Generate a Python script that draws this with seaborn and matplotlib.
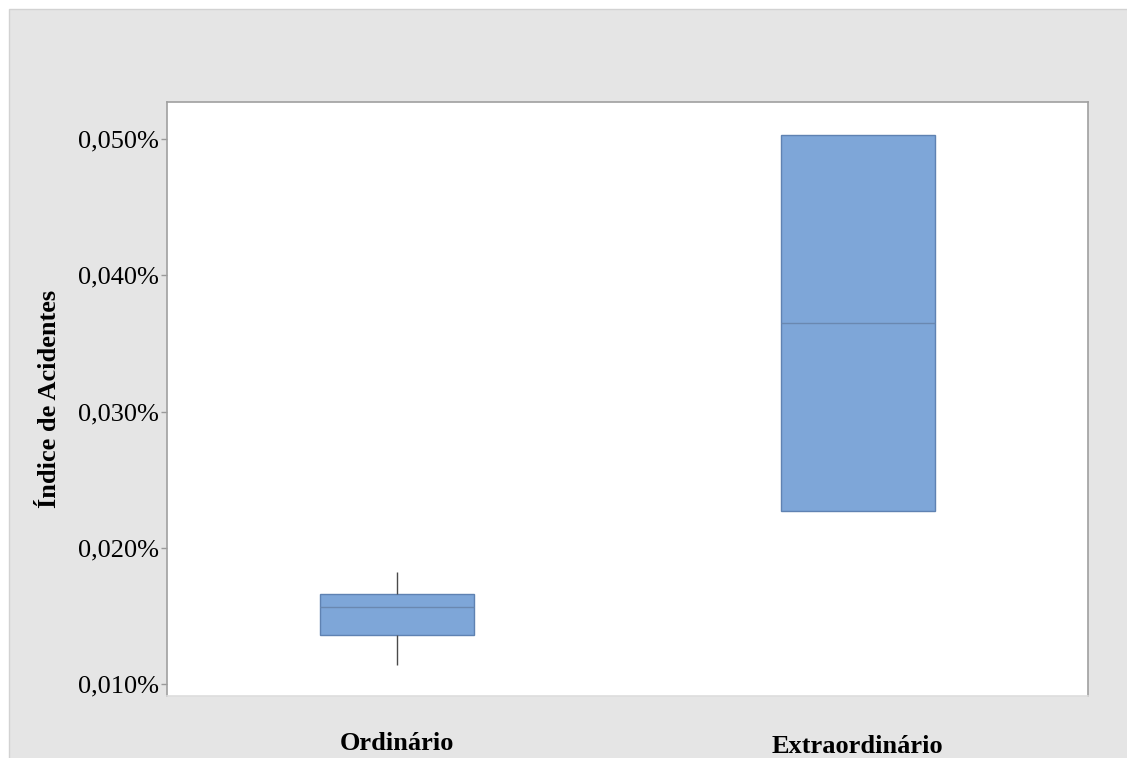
import matplotlib
matplotlib.use("Agg")
import matplotlib.pyplot as plt
import matplotlib.transforms as mtransforms
from matplotlib.patches import Rectangle
import pandas as pd
import seaborn as sns

# accident index (%) per group
categories = ["Ordinário", "Extraordinário"]
ordinario = [0.0114, 0.0136, 0.01565, 0.0166, 0.0182]
extraordinario = [0.0227, 0.0227, 0.0365, 0.0503, 0.0503]
y_ticks = [0.010, 0.020, 0.030, 0.040, 0.050]
y_label = "Índice de Acidentes"

df = pd.DataFrame({
    "grupo": [categories[0]] * len(ordinario) + [categories[1]] * len(extraordinario),
    "indice": ordinario + extraordinario,
})

sns.set_theme(style="white")
plt.rcParams["font.family"] = ["Liberation Serif", "DejaVu Serif"]
plt.rcParams["text.color"] = "black"
plt.rcParams["axes.labelcolor"] = "black"
plt.rcParams["xtick.labelcolor"] = "black"
plt.rcParams["ytick.labelcolor"] = "black"

fig = plt.figure(figsize=(11.27, 7.58), dpi=100)
fig.patch.set_facecolor("white")
# grey chart area with a thin white margin on the left and top
bg = Rectangle((9 / 1127, -0.01), 1.02, 1 - 9 / 758 + 0.01,
               transform=fig.transFigure, facecolor="#e5e5e5",
               edgecolor="#d2d2d2", linewidth=1, zorder=-10)
fig.patches.append(bg)

ax = fig.add_axes([0.1482, 0.0818, 0.8172, 0.7836])
ax.set_facecolor("white")

sns.boxplot(
    data=df, x="grupo", y="indice", order=categories, ax=ax,
    width=0.334, color="#7ea6d8", saturation=1, linecolor="#5f82b2",
    linewidth=1, showcaps=False, fliersize=0,
    whiskerprops={"color": "#4a4a4a", "linewidth": 1},
    medianprops={"color": "#6a88b0", "linewidth": 1},
)

ax.set_xlim(-0.5, 1.5)
ax.set_ylim(0.00912, 0.05272)
ax.set_yticks(y_ticks)
ax.set_yticklabels([f"{v:.3f}%".replace(".", ",") for v in y_ticks], fontsize=19)
ax.tick_params(axis="y", length=4, width=1, color="#999999", pad=2, left=True)
ax.tick_params(axis="x", length=0, pad=26, labelsize=19)
for lab in ax.get_xticklabels():
    lab.set_fontweight("bold")
last = ax.get_xticklabels()[1]
last.set_transform(last.get_transform() + mtransforms.ScaledTranslation(0, -2 / 72, fig.dpi_scale_trans))

ax.set_xlabel("")
ax.set_ylabel(y_label, fontsize=19, fontweight="bold", labelpad=12)

for side in ["left", "top", "right"]:
    ax.spines[side].set_color("#a0a0a0")
    ax.spines[side].set_linewidth(1.2)
ax.spines["bottom"].set_color("#dddddd")
ax.spines["bottom"].set_linewidth(1.2)

fig.savefig("out.png", dpi=100, facecolor=fig.get_facecolor())
